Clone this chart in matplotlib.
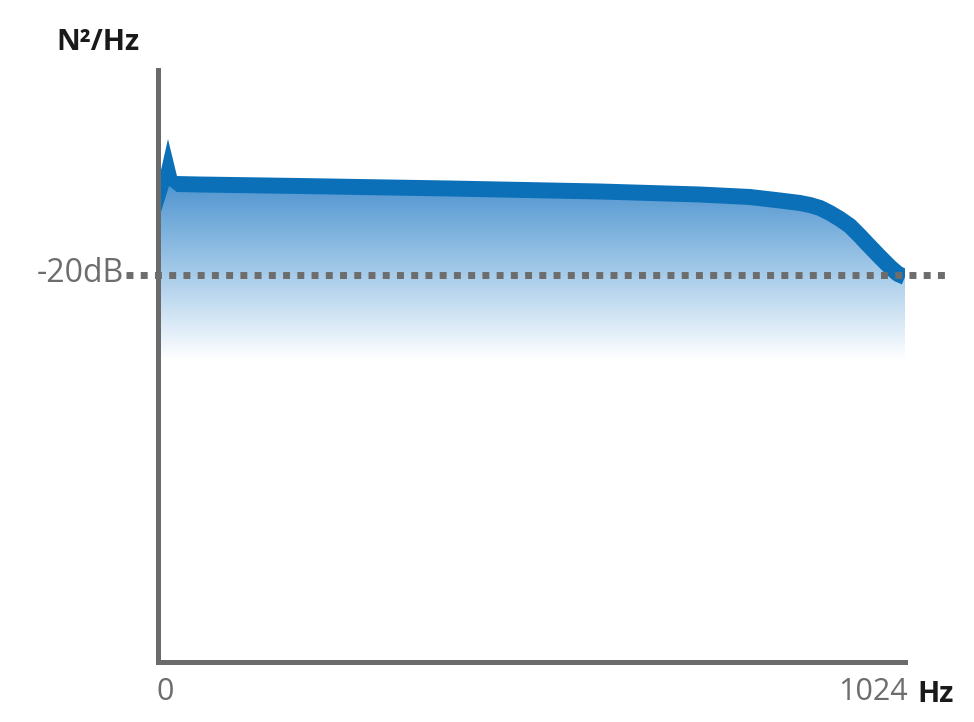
import numpy as np
import matplotlib.pyplot as plt
from matplotlib.colors import LinearSegmentedColormap
from matplotlib.patches import Polygon

plt.rcParams['font.family'] = ['Open Sans', 'DejaVu Sans']

# spectrum curve (Hz, dB)
freq = [24.7, 57.6, 194.7, 400, 606, 743, 811.5, 852.6, 880, 893.8, 907.5, 921.2,
        934.9, 948.6, 962.3, 971.9, 989.7, 1003.4, 1014.4, 1024]
level = [-10.9, -10.95, -11.1, -11.35, -11.65, -11.95, -12.2, -12.55, -12.8, -13.0, -13.3, -13.8,
         -14.4, -15.1, -16.1, -16.85, -18.2, -19.2, -19.9, -20.2]

# little spike at DC (outline)
spike_freq = [4.1, 13.7, 26, 26, 15.1, 4.1]
spike_level = [-9.5, -6.4, -10.1, -11.7, -11.1, -13.7]

ref_db = -20
fade_db = -28.5
line_color = '#0b70b8'
grey = '#6d6d6d'

fig = plt.figure(figsize=(9.74, 7.22), dpi=100)
ax = fig.add_axes([158 / 974, 1 - 662 / 722, 747 / 974, 592 / 722])
ax.set_xlim(0, 1024)
ax.set_ylim(-58.7, 0.5)

# gradient fill under the curve
top_x = [spike_freq[0], spike_freq[1]] + freq
top_y = [spike_level[0], spike_level[1]] + level
poly_x = top_x + [freq[-1], spike_freq[0]]
poly_y = top_y + [fade_db, fade_db]
clip = Polygon(np.column_stack([poly_x, poly_y]), closed=True, facecolor='none', edgecolor='none')
ax.add_patch(clip)
cmap = LinearSegmentedColormap.from_list(
    'fade', [(0, '#ffffff'), (0.45, '#a9cdea'), (1, '#4890cd')])
grad = np.linspace(0, 1, 256).reshape(-1, 1)
img = ax.imshow(grad, cmap=cmap, aspect='auto', origin='lower',
                extent=[0, 1024, fade_db, -10], zorder=1)
img.set_clip_path(clip)

# the curve itself
ax.fill(spike_freq, spike_level, color=line_color, lw=0, zorder=3)
ax.plot(freq, level, color=line_color, lw=11.5, solid_capstyle='butt',
        solid_joinstyle='round', zorder=3)

# -20 dB reference
ax.plot([-44, 1080], [ref_db, ref_db], color=grey, lw=5, ls=(0, (1, 1.05)),
        dash_capstyle='butt', clip_on=False, zorder=4)

for s in ['top', 'right']:
    ax.spines[s].set_visible(False)
for s in ['left', 'bottom']:
    ax.spines[s].set_color('#6b6b6b')
    ax.spines[s].set_linewidth(3.6)
ax.set_xticks([])
ax.set_yticks([])

fig.text(98 / 974, 1 - 42 / 722, 'N²/Hz', fontsize=21, fontweight='bold',
         color='#1a1a1a', ha='center', va='center')
fig.text(124 / 974, 1 - 273 / 722, '-20dB', fontsize=23, color=grey,
         ha='right', va='center')
fig.text(165 / 974, 1 - 692 / 722, '0', fontsize=22, color=grey,
         ha='center', va='center')
fig.text(908 / 974, 1 - 692 / 722, '1024', fontsize=22, color=grey,
         ha='right', va='center')
fig.text(917 / 974, 1 - 694 / 722, 'Hz', fontsize=21, fontweight='bold',
         color='#1a1a1a', ha='left', va='center')

fig.savefig('out.png', dpi=100)
